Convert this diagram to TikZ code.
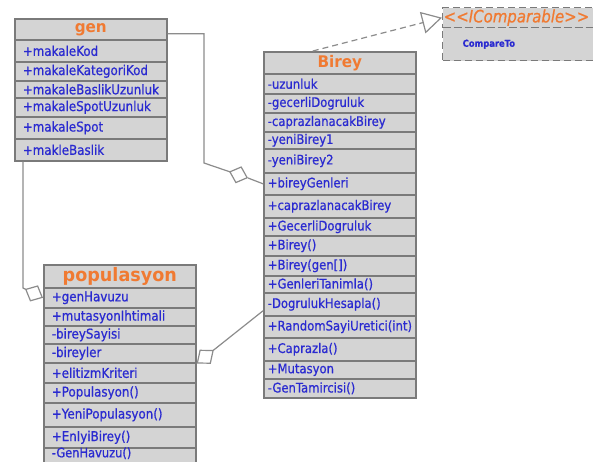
\documentclass[tikz,border=0pt]{standalone}
\usepackage{fontspec}
\setmainfont{DejaVu Sans}
\newfontfamily\rowfont{DejaVu Sans}[FakeStretch=0.88, FakeBold=0.8]
\newfontfamily\headfont{DejaVu Sans}[FakeStretch=0.95]
\usetikzlibrary{arrows.meta,calc}
\definecolor{boxfill}{HTML}{D4D4D4}
\definecolor{boxline}{HTML}{7A7A7A}
\definecolor{membertext}{HTML}{2A2AD0}
\definecolor{titletext}{HTML}{F07A32}
\definecolor{linkline}{HTML}{8C8C8C}
\tikzset{
  boxbase/.style={draw=boxline, line width=1.6pt, fill=boxfill, anchor=north west, inner ysep=0pt},
  classtitle/.style={boxbase, minimum width=152pt, text=titletext, align=center,
    font=\headfont\bfseries\fontsize{16}{18}\selectfont},
  rowwide/.style={boxbase, text width=136pt, inner xsep=8pt, text=membertext,
    font=\rowfont\fontsize{13.5}{15}\selectfont},
  rownarrow/.style={boxbase, text width=144pt, inner xsep=4pt, text=membertext,
    font=\rowfont\fontsize{13.2}{15}\selectfont},
  ifacebox/.style={draw=boxline, line width=1.4pt, dash pattern=on 7pt off 4pt, fill=boxfill,
    anchor=north west, inner ysep=0pt, minimum width=158pt},
  link/.style={draw=linkline, line width=1.2pt},
  agg/.style={-{Diamond[length=20pt,width=18pt,fill=white,line width=1.2pt]}},
  aggstart/.style={{Diamond[length=22pt,width=18pt,fill=white,line width=1.2pt]}-},
  realize/.style={dash pattern=on 6pt off 4pt, -{Triangle[length=20pt,width=22pt,fill=white,line width=1.2pt]}},
}
\begin{document}
\begin{tikzpicture}[x=1pt,y=-1pt]
\fill[white] (0,0) rectangle (593,461);
\useasboundingbox (0,0) rectangle (593,461);

% gen
\node[classtitle, minimum height=21pt] (gt) at (14,18) {gen};
\foreach \ya/\yb/\txt [count=\i] in {39/61/{+makaleKod}, 61/80/{+makaleKategoriKod},
  80/97/{+makaleBaslikUzunluk}, 97/116/{+makaleSpotUzunluk}, 116/138/{+makaleSpot},
  138/160/{+makleBaslik}}
  \node[rowwide, minimum height={(\yb-\ya)*1pt}] (gr\i) at (14,\ya) {\txt};

% Birey
\node[classtitle, minimum height=22pt] (bt) at (263,51) {Birey};
\foreach \ya/\yb/\txt [count=\i] in {73/93/{-uzunluk}, 93/112/{-gecerliDogruluk},
  112/131/{-caprazlanacakBirey}, 131/148/{-yeniBirey1}, 148/172/{-yeniBirey2},
  172/194/{+bireyGenleri}, 194/217/{+caprazlanacakBirey}, 217/235/{+GecerliDogruluk},
  235/255/{+Birey()}, 255/275/{+Birey(gen[])}, 275/292/{+GenleriTanimla()},
  292/315/{-DogrulukHesapla()}, 315/337/{+RandomSayiUretici(int)}, 337/360/{+Caprazla()},
  360/378/{+Mutasyon}, 378/397/{-GenTamircisi()}}
  \node[rownarrow, minimum height={(\yb-\ya)*1pt}] (br\i) at (263,\ya) {\txt};

% populasyon
\node[classtitle, minimum height=23pt, font=\headfont\bfseries\fontsize{18.5}{20}\selectfont] (pt) at (43,264) {populasyon};
\foreach \ya/\yb/\txt [count=\i] in {287/307/{+genHavuzu}, 307/325/{+mutasyonIhtimali},
  325/343/{-bireySayisi}, 343/362/{-bireyler}, 362/382/{+elitizmKriteri},
  382/402/{+Populasyon()}, 402/426/{+YeniPopulasyon()}, 426/447/{+EnIyiBirey()}}
  \node[rowwide, minimum height={(\yb-\ya)*1pt}] (pr\i) at (43,\ya) {\txt};
\node[rowwide, minimum height=14.5pt, text height=8.5pt, text depth=4pt,
  font=\rowfont\fontsize{13}{15}\selectfont] (pr9) at (43,447) {-GenHavuzu()};

% IComparable
\node[ifacebox, minimum height=20pt, text width=156pt, inner xsep=1pt, text=titletext,
  font=\rowfont\itshape\fontsize{17}{19}\selectfont] (it) at (442,7) {<<IComparable>>};
\node[ifacebox, minimum height=33pt, text width=138pt, inner xsep=10pt, text=membertext,
  font=\rowfont\bfseries\fontsize{9.5}{12}\selectfont] (ir) at (442,27) {\hspace*{10pt}CompareTo};

% connectors
\coordinate (g1) at (204,163);
\coordinate (gd) at (248,178);
\draw[link, agg] ([yshift=-4.5pt]gt.east) -| (g1) -- (gd);
\draw[link] (gd) -- (br6.west);

\coordinate (p1) at (23,288);
\draw[link, agg] ([xshift=9pt]gr6.south west) -- (p1) -- (pr1.west);

\draw[link, aggstart] (pr4.south east) -- ([yshift=-6.5pt]br12.west);

\draw[link, realize] ([xshift=-27pt]bt.north) -- (it.west);
\end{tikzpicture}
\end{document}
